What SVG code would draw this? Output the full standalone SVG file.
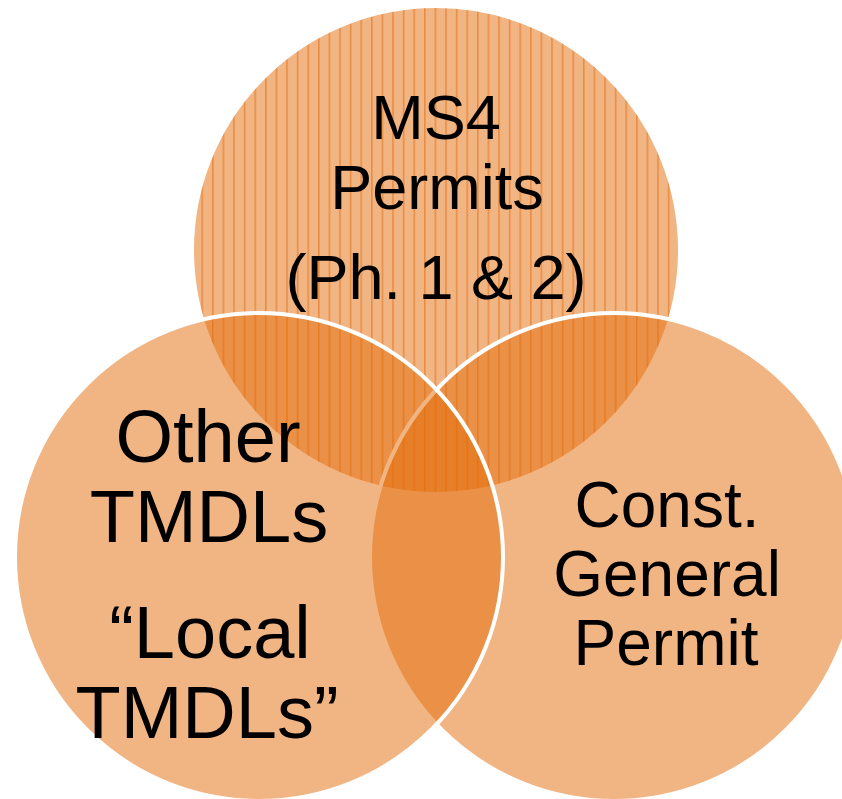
<svg xmlns="http://www.w3.org/2000/svg" width="842" height="799" viewBox="0 0 842 799">
<style>
.c{fill:#E46C0A;fill-opacity:0.5;stroke:#FFFFFF;stroke-width:4}
.t{font-family:"Liberation Sans","Open Sans",sans-serif;fill:#000000;text-anchor:middle}
</style>
<defs>
<pattern id="stripes" patternUnits="userSpaceOnUse" x="0" y="0" width="10.6" height="20">
<rect x="0" y="0" width="1.6" height="20" fill="#E46C0A" fill-opacity="0.55"/>
</pattern>
</defs>
<rect width="842" height="799" fill="#FFFFFF"/>
<g id="node-ms4">
<circle class="c" cx="436" cy="250" r="244"/>
<circle cx="436" cy="250" r="242" fill="url(#stripes)"/>
</g>
<g id="node-const">
<circle class="c" cx="614" cy="557" r="244"/>
</g>
<g id="node-tmdl">
<circle class="c" cx="259" cy="557" r="244"/>
</g>
<g id="connectors"></g>
<g id="labels">
<text class="t" x="436" y="139" font-size="63">MS4</text>
<text class="t" x="437" y="209" font-size="63">Permits</text>
<text class="t" x="436" y="299" font-size="63">(Ph. 1 &amp; 2)</text>
<text class="t" x="208" y="462" font-size="74">Other</text>
<text class="t" x="209" y="542" font-size="74">TMDLs</text>
<text class="t" x="210" y="658" font-size="74">“Local</text>
<text class="t" x="207" y="738" font-size="74">TMDLs”</text>
<text class="t" x="667" y="527" font-size="64">Const.</text>
<text class="t" x="667" y="596" font-size="64">General</text>
<text class="t" x="666" y="665" font-size="64">Permit</text>
</g>
</svg>
